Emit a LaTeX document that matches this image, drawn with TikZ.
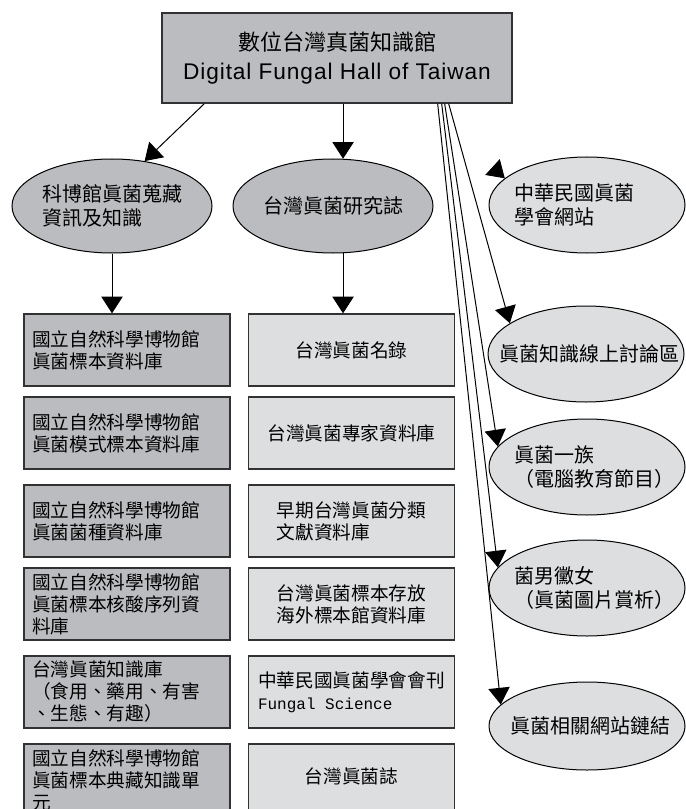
\documentclass[tikz,border=0pt]{standalone}
\usepackage{fontspec}
\setmainfont{Noto Sans CJK TC}
\newfontfamily\latinsans[LetterSpace=4]{Liberation Sans}
\newfontfamily\latinmono{Liberation Mono}
\usetikzlibrary{shapes.geometric, arrows.meta, calc, positioning}
\definecolor{darkfill}{RGB}{187,188,191}
\definecolor{lightfill}{RGB}{221,222,224}
\definecolor{edge}{RGB}{50,50,50}

\begin{document}
\begin{tikzpicture}[x=0.75pt, y=-0.75pt,
        arr/.style={-{Triangle[length=12.5pt, width=16pt]}, line width=0.75pt},
        topbox/.style={draw=edge, line width=1pt, fill=darkfill, minimum width=262.5pt, minimum height=67.5pt, align=center, font=\fontsize{16.5}{21.75}\selectfont},
        darkbox/.style={draw=edge, line width=1pt, fill=darkfill, minimum height=54pt, text width=142.5pt, inner xsep=6pt, align=left, font=\fontsize{14}{16.5}\selectfont},
        lightbox/.style={draw=edge, line width=1pt, fill=lightfill, minimum height=54pt, minimum width=154.5pt, inner xsep=2pt, align=left, font=\fontsize{14}{16.5}\selectfont},
        leftell/.style={ellipse, draw, line width=0.75pt, fill=darkfill, minimum width=150pt, minimum height=70.5pt, inner sep=0pt},
        rightell/.style={ellipse, draw, line width=0.75pt, fill=lightfill, minimum width=147pt, minimum height=72pt, inner sep=0pt},
        lefttext/.style={font=\fontsize{15}{18.5}\selectfont, align=left},
        elltext/.style={font=\fontsize{15}{18.5}\selectfont, align=left, text width=122pt, xshift=6.75pt},
        onetext/.style={font=\fontsize{15}{18.5}\selectfont, xshift=2.25pt}]
    \path[use as bounding box, fill=white] (0,0) rectangle (685,809);

    \node[topbox] (top) at (337,58) {數位台灣真菌知識館\\{\latinsans\fontsize{17}{21.75}\selectfont Digital Fungal Hall of Taiwan}};

    \node[leftell, label={[lefttext]center:{科博館眞菌蒐藏\\資訊及知識}}] (l1) at (112,206) {};
    \node[leftell, label={[lefttext]center:台灣眞菌研究誌}] (l2) at (333,206) {};

    \node[darkbox] (lb1) at (127,350) {國立自然科學博物館\\眞菌標本資料庫};
    \node[darkbox] (lb2) at (127,433) {國立自然科學博物館\\眞菌模式標本資料庫};
    \node[darkbox] (lb3) at (127,521) {國立自然科學博物館\\眞菌菌種資料庫};
    \node[darkbox] (lb4) at (127,604) {國立自然科學博物館\\眞菌標本核酸序列資\\料庫};
    \node[darkbox] (lb5) at (127,692) {台灣眞菌知識庫\\（食用、藥用、有害\\、生態、有趣）};
    \node[darkbox] (lb6) at (127,780) {國立自然科學博物館\\眞菌標本典藏知識單\\元};

    \node[lightbox, right=12.75pt of lb1] (rb1) {台灣眞菌名錄};
    \node[lightbox, right=12.75pt of lb2] (rb2) {台灣眞菌專家資料庫};
    \node[lightbox, right=12.75pt of lb3] (rb3) {早期台灣眞菌分類\\文獻資料庫};
    \node[lightbox, right=12.75pt of lb4] (rb4) {台灣眞菌標本存放\\海外標本館資料庫};
    \node[lightbox, right=12.75pt of lb5] (rb5) {中華民國眞菌學會會刊\\{\latinmono\fontsize{12}{16.5}\selectfont Fungal Science}};
    \node[lightbox, right=12.75pt of lb6, text depth=7pt] (rb6) {台灣眞菌誌};

    \node[rightell, label={[elltext]center:{中華民國眞菌\\學會網站}}] (e1) at (587,205) {};
    \node[rightell, label={[onetext]center:眞菌知識線上討論區}] (e2) at (586,354) {};
    \node[rightell, label={[elltext]center:{眞菌一族\\（電腦教育節目）}}] (e3) at (587,467) {};
    \node[rightell, label={[elltext]center:{菌男黴女\\（眞菌圖片賞析）}}] (e4) at (587,588) {};
    \node[rightell, minimum height=66pt, label={[onetext]center:眞菌相關網站鏈結}] (e5) at (587,726) {};

    \draw[arr] ($(top.south west)+(43,0)$) -- (l1.54);
    \draw[arr] (l2.78 |- top.south) -- (l2.78);
    \draw[arr] (l1.south) -- (l1.south |- lb1.north);
    \draw[arr] (l2.-78) -- (l2.-78 |- rb1.north);
    % only the head shows for the first site
    \coordinate (h1) at ($(e1.162)+(-12,-11)$);
    \draw[arr] (h1) -- (e1.162);
    \foreach \n/\dx/\a in {e2/64/158, e3/68/167, e4/71/167, e5/75/166}
        \draw[arr] ($(top.south east)+(-\dx,0)$) -- (\n.\a);
\end{tikzpicture}
\end{document}
